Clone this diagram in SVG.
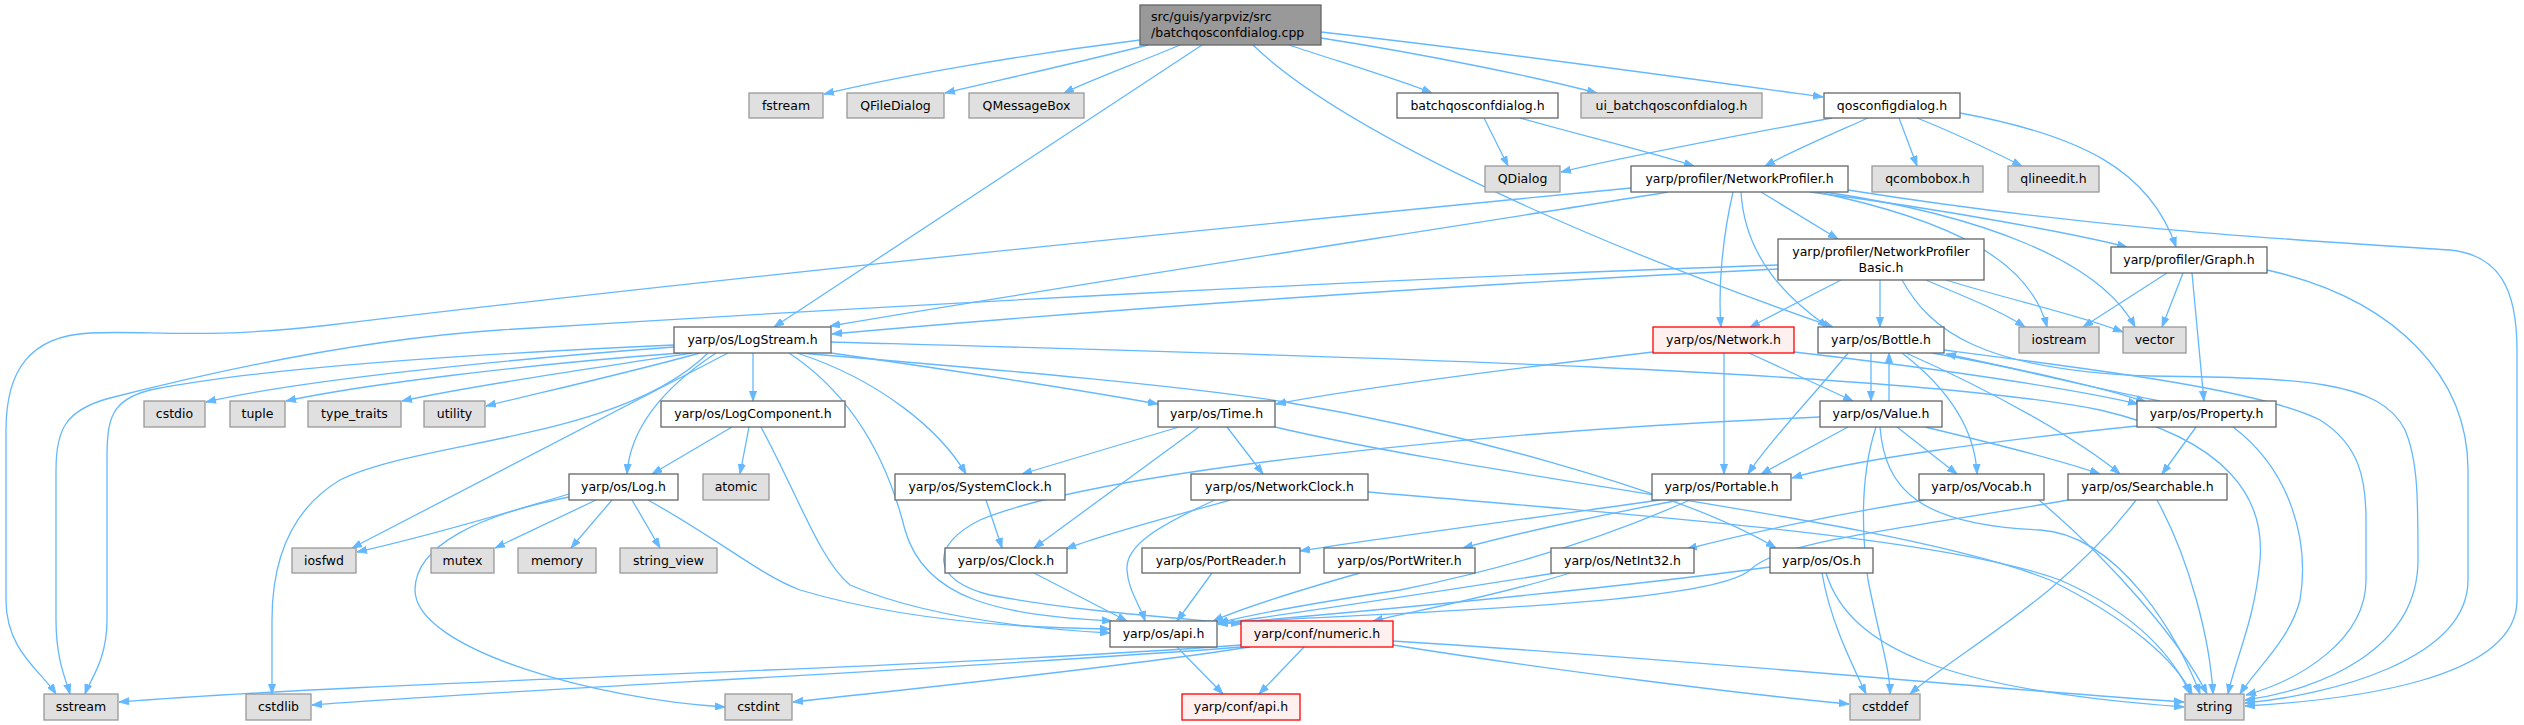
<svg xmlns="http://www.w3.org/2000/svg" width="2524" height="725" viewBox="0 0 2524 725">
<style>
text{font-family:"DejaVu Sans","Liberation Sans",sans-serif;font-size:12.5px;fill:#000;text-anchor:middle}
.w rect{fill:#fff;stroke:#666;stroke-width:1.3}
.g rect{fill:#e0e0e0;stroke:#999;stroke-width:1.3}
.r rect{fill:#fff0f0;stroke:#f00;stroke-width:1.3}
.m rect{fill:#999;stroke:#666;stroke-width:1.3}
#edges path{fill:none;stroke:#63b8ff;stroke-width:1.3;marker-end:url(#a)}
</style>
<defs>
<marker id="a" markerWidth="11" markerHeight="8" refX="10" refY="4" orient="auto" markerUnits="userSpaceOnUse"><path d="M0,0.4 L10,4 L0,7.6z" fill="#63b8ff" stroke="#63b8ff" stroke-width="0.8"/></marker>
</defs>
<rect width="2524" height="725" fill="#fff"/>
<g id="edges">
<path d="M1140,40 C1020,55 900,76 824,94"/>
<path d="M1148,45 C1080,62 1000,80 945,93"/>
<path d="M1180,45 C1140,62 1090,80 1064,93"/>
<path d="M1202,45 L774,327"/>
<path d="M1253,45 C1330,120 1540,225 1833,327"/>
<path d="M1289,45 C1340,62 1400,80 1432,93"/>
<path d="M1321,38 C1430,55 1540,78 1597,93"/>
<path d="M1321,32 C1500,52 1700,80 1823,97"/>
<path d="M1484,118 L1508,166"/>
<path d="M1520,118 C1580,135 1650,152 1694,166"/>
<path d="M1832,118 C1740,135 1620,158 1561,172"/>
<path d="M1868,118 C1830,135 1790,152 1765,166"/>
<path d="M1899,118 L1917,166"/>
<path d="M1917,118 C1960,135 2000,155 2022,166"/>
<path d="M1960,113 C2080,135 2150,170 2176,247"/>
<path d="M1631,188 C1250,225 700,280 330,325 C200,340 150,330 90,333 C30,336 6,370 6,430 L6,600 C6,650 40,670 56,694"/>
<path d="M1668,192 C1500,220 1100,280 830,326"/>
<path d="M1733,192 C1722,240 1718,290 1721,327"/>
<path d="M1741,192 C1745,260 1790,300 1828,327"/>
<path d="M1761,192 L1838,239"/>
<path d="M1810,192 C1950,210 2080,235 2127,247"/>
<path d="M1817,192 C1950,220 2030,260 2047,327"/>
<path d="M1825,192 C1980,215 2100,260 2135,327"/>
<path d="M1848,190 C2100,230 2300,240 2450,250 C2500,255 2517,290 2517,350 L2517,600 C2517,680 2350,700 2245,706"/>
<path d="M1778,265 C1400,278 900,305 500,330 C350,340 200,375 110,398 C65,410 56,430 56,470 L56,620 C56,660 66,680 70,694"/>
<path d="M1778,269 C1450,285 1100,310 832,334"/>
<path d="M1841,280 L1750,327"/>
<path d="M1880,280 L1880,327"/>
<path d="M1926,280 C1960,295 2000,310 2025,327"/>
<path d="M1946,280 C2010,300 2080,315 2123,332"/>
<path d="M1902,280 C1930,330 1980,370 2150,376 C2300,378 2380,380 2405,430 C2418,460 2418,500 2418,560 C2418,650 2320,690 2245,700"/>
<path d="M2167,273 L2083,327"/>
<path d="M2183,273 L2162,327"/>
<path d="M2192,273 C2196,320 2200,360 2204,401"/>
<path d="M2267,270 C2400,300 2468,380 2468,470 L2468,580 C2468,660 2330,695 2245,703"/>
<path d="M674,345 C450,355 250,370 150,390 C110,400 107,420 107,460 L107,620 C107,660 90,680 85,694"/>
<path d="M674,347 C500,360 300,380 206,402"/>
<path d="M680,353 C520,365 360,385 286,401"/>
<path d="M692,353 C580,370 460,388 402,401"/>
<path d="M700,353 C620,375 530,395 486,406"/>
<path d="M728,353 L352,548"/>
<path d="M708,353 C620,440 420,440 340,480 C290,510 272,560 272,620 L272,694"/>
<path d="M716,353 C660,390 630,430 627,474"/>
<path d="M753,353 L753,401"/>
<path d="M789,353 C860,400 890,470 905,530 C925,600 1000,615 1112,621"/>
<path d="M797,353 C880,380 940,430 966,474"/>
<path d="M831,353 C950,370 1080,390 1158,404"/>
<path d="M800,353 C1000,370 1180,385 1285,402 C1450,430 1680,490 1776,548"/>
<path d="M831,342 C1300,355 1900,370 2100,410 C2230,440 2265,500 2260,560 C2255,620 2235,660 2228,694"/>
<path d="M732,427 L652,474"/>
<path d="M749,427 L740,474"/>
<path d="M761,427 C800,500 820,560 850,585 C920,615 1020,628 1110,633"/>
<path d="M569,494 C500,515 410,540 357,552"/>
<path d="M596,500 L495,548"/>
<path d="M612,500 L571,548"/>
<path d="M632,500 L660,548"/>
<path d="M648,500 C720,540 760,575 800,590 C900,620 1020,628 1110,629"/>
<path d="M569,497 C480,515 415,545 415,590 C415,650 600,700 725,707"/>
<path d="M986,500 L1002,548"/>
<path d="M1179,427 L1022,474"/>
<path d="M1199,427 L1034,548"/>
<path d="M1227,427 L1263,474"/>
<path d="M1275,427 C1500,480 1900,520 2050,580 C2130,620 2175,660 2192,694"/>
<path d="M1230,500 C1160,520 1100,535 1066,549"/>
<path d="M1215,500 C1160,525 1125,545 1127,570 C1128,590 1140,605 1145,621"/>
<path d="M1368,492 C1700,520 1950,540 2060,580 C2140,615 2175,660 2190,694"/>
<path d="M1034,573 L1127,621"/>
<path d="M1653,352 C1500,370 1350,390 1276,404"/>
<path d="M1749,353 L1853,401"/>
<path d="M1724,353 L1724,474"/>
<path d="M1794,352 C1950,370 2080,390 2138,404"/>
<path d="M1848,353 C1810,400 1770,440 1748,474"/>
<path d="M1871,353 L1871,401"/>
<path d="M1889,401 L1889,353"/>
<path d="M1902,353 C1950,390 1975,430 1977,474"/>
<path d="M1906,353 C1990,390 2080,440 2120,474"/>
<path d="M1932,353 C2030,370 2110,390 2146,402"/>
<path d="M2160,401 C2080,385 2000,365 1946,354"/>
<path d="M1944,350 C2100,370 2260,390 2320,420 C2360,445 2366,480 2366,520 L2366,580 C2366,640 2300,680 2246,695"/>
<path d="M1848,427 L1761,474"/>
<path d="M1897,427 L1957,474"/>
<path d="M1925,427 C2000,445 2060,460 2100,474"/>
<path d="M1876,427 C1862,470 1860,520 1868,580 C1880,640 1890,670 1890,694"/>
<path d="M1880,427 C1885,490 1920,525 2040,530 C2120,535 2180,640 2200,694"/>
<path d="M1820,417 C1500,430 1100,470 980,520 C930,545 930,580 990,595 C1080,612 1180,618 1241,624"/>
<path d="M1660,500 C1520,520 1380,538 1300,551"/>
<path d="M1680,500 C1600,515 1510,535 1463,548"/>
<path d="M1690,500 C1600,540 1500,570 1400,590 C1300,605 1250,615 1218,623"/>
<path d="M1212,573 L1177,621"/>
<path d="M1360,573 C1300,590 1250,605 1213,621"/>
<path d="M1925,500 C1830,515 1740,535 1687,549"/>
<path d="M2039,500 C2110,560 2180,640 2207,694"/>
<path d="M2068,500 C1900,530 1780,540 1750,570 C1710,605 1400,612 1218,623"/>
<path d="M2136,500 C2060,600 1960,650 1910,694"/>
<path d="M2157,500 C2190,560 2210,640 2213,694"/>
<path d="M2137,426 C2000,440 1850,460 1792,478"/>
<path d="M2196,427 L2162,474"/>
<path d="M2233,427 C2290,470 2310,540 2300,600 C2290,640 2255,670 2240,694"/>
<path d="M1555,573 C1420,595 1300,612 1218,624"/>
<path d="M1570,573 C1500,595 1420,610 1373,621"/>
<path d="M1770,567 C1600,590 1380,610 1218,624"/>
<path d="M1822,573 C1830,620 1850,660 1866,694"/>
<path d="M1826,573 C1850,650 1950,690 2184,707"/>
<path d="M1177,647 L1223,694"/>
<path d="M1304,647 L1259,694"/>
<path d="M1241,645 C900,670 400,680 119,702"/>
<path d="M1241,647 C950,670 500,690 312,705"/>
<path d="M1250,647 C1100,670 900,690 793,702"/>
<path d="M1393,645 C1550,670 1750,695 1849,704"/>
<path d="M1393,641 C1700,660 2000,690 2184,702"/>
</g>
<g id="n_main" class="m"><rect x="1140" y="5" width="181" height="40"/><text x="1151" y="21" style="text-anchor:start">src/guis/yarpviz/src</text><text x="1151" y="37" style="text-anchor:start">/batchqosconfdialog.cpp</text></g>
<g id="n_fstream" class="g"><rect x="749" y="93" width="74" height="25"/><text x="786" y="110">fstream</text></g>
<g id="n_qfiledialog" class="g"><rect x="847" y="93" width="97" height="25"/><text x="895.5" y="110">QFileDialog</text></g>
<g id="n_qmessagebox" class="g"><rect x="969" y="93" width="115" height="25"/><text x="1026.5" y="110">QMessageBox</text></g>
<g id="n_batchqos" class="w"><rect x="1397" y="93" width="161" height="25"/><text x="1477.5" y="110">batchqosconfdialog.h</text></g>
<g id="n_uibatch" class="g"><rect x="1581" y="93" width="181" height="25"/><text x="1671.5" y="110">ui_batchqosconfdialog.h</text></g>
<g id="n_qosconfig" class="w"><rect x="1824" y="93" width="136" height="25"/><text x="1892" y="110">qosconfigdialog.h</text></g>
<g id="n_qdialog" class="g"><rect x="1485" y="166" width="75" height="26"/><text x="1522.5" y="183">QDialog</text></g>
<g id="n_netprof" class="w"><rect x="1631" y="166" width="217" height="26"/><text x="1739.5" y="183">yarp/profiler/NetworkProfiler.h</text></g>
<g id="n_qcombobox" class="g"><rect x="1872" y="166" width="111" height="26"/><text x="1927.5" y="183">qcombobox.h</text></g>
<g id="n_qlineedit" class="g"><rect x="2008" y="166" width="91" height="26"/><text x="2053.5" y="183">qlineedit.h</text></g>
<g id="n_netprofbasic" class="w"><rect x="1778" y="239" width="206" height="41"/><text x="1881" y="256">yarp/profiler/NetworkProfiler</text><text x="1881" y="272">Basic.h</text></g>
<g id="n_graph" class="w"><rect x="2111" y="247" width="156" height="26"/><text x="2189" y="264">yarp/profiler/Graph.h</text></g>
<g id="n_logstream" class="w"><rect x="674" y="327" width="157" height="26"/><text x="752.5" y="344">yarp/os/LogStream.h</text></g>
<g id="n_network" class="r"><rect x="1653" y="327" width="141" height="26"/><text x="1723.5" y="344">yarp/os/Network.h</text></g>
<g id="n_bottle" class="w"><rect x="1818" y="327" width="126" height="26"/><text x="1881" y="344">yarp/os/Bottle.h</text></g>
<g id="n_iostream" class="g"><rect x="2019" y="327" width="80" height="26"/><text x="2059" y="344">iostream</text></g>
<g id="n_vector" class="g"><rect x="2123" y="327" width="63" height="26"/><text x="2154.5" y="344">vector</text></g>
<g id="n_cstdio" class="g"><rect x="144" y="401" width="61" height="26"/><text x="174.5" y="418">cstdio</text></g>
<g id="n_tuple" class="g"><rect x="230" y="401" width="55" height="26"/><text x="257.5" y="418">tuple</text></g>
<g id="n_typetraits" class="g"><rect x="308" y="401" width="93" height="26"/><text x="354.5" y="418">type_traits</text></g>
<g id="n_utility" class="g"><rect x="424" y="401" width="61" height="26"/><text x="454.5" y="418">utility</text></g>
<g id="n_logcomponent" class="w"><rect x="661" y="401" width="184" height="26"/><text x="753" y="418">yarp/os/LogComponent.h</text></g>
<g id="n_time" class="w"><rect x="1158" y="401" width="117" height="26"/><text x="1216.5" y="418">yarp/os/Time.h</text></g>
<g id="n_value" class="w"><rect x="1820" y="401" width="122" height="26"/><text x="1881" y="418">yarp/os/Value.h</text></g>
<g id="n_property" class="w"><rect x="2137" y="401" width="139" height="26"/><text x="2206.5" y="418">yarp/os/Property.h</text></g>
<g id="n_log" class="w"><rect x="569" y="474" width="109" height="26"/><text x="623.5" y="491">yarp/os/Log.h</text></g>
<g id="n_atomic" class="g"><rect x="703" y="474" width="66" height="26"/><text x="736" y="491">atomic</text></g>
<g id="n_systemclock" class="w"><rect x="895" y="474" width="170" height="26"/><text x="980" y="491">yarp/os/SystemClock.h</text></g>
<g id="n_networkclock" class="w"><rect x="1191" y="474" width="177" height="26"/><text x="1279.5" y="491">yarp/os/NetworkClock.h</text></g>
<g id="n_portable" class="w"><rect x="1652" y="474" width="139" height="26"/><text x="1721.5" y="491">yarp/os/Portable.h</text></g>
<g id="n_vocab" class="w"><rect x="1919" y="474" width="125" height="26"/><text x="1981.5" y="491">yarp/os/Vocab.h</text></g>
<g id="n_searchable" class="w"><rect x="2068" y="474" width="159" height="26"/><text x="2147.5" y="491">yarp/os/Searchable.h</text></g>
<g id="n_iosfwd" class="g"><rect x="292" y="548" width="64" height="25"/><text x="324" y="565">iosfwd</text></g>
<g id="n_mutex" class="g"><rect x="431" y="548" width="63" height="25"/><text x="462.5" y="565">mutex</text></g>
<g id="n_memory" class="g"><rect x="518" y="548" width="78" height="25"/><text x="557" y="565">memory</text></g>
<g id="n_stringview" class="g"><rect x="620" y="548" width="97" height="25"/><text x="668.5" y="565">string_view</text></g>
<g id="n_clock" class="w"><rect x="945" y="548" width="122" height="25"/><text x="1006" y="565">yarp/os/Clock.h</text></g>
<g id="n_portreader" class="w"><rect x="1142" y="548" width="158" height="25"/><text x="1221" y="565">yarp/os/PortReader.h</text></g>
<g id="n_portwriter" class="w"><rect x="1324" y="548" width="151" height="25"/><text x="1399.5" y="565">yarp/os/PortWriter.h</text></g>
<g id="n_netint32" class="w"><rect x="1551" y="548" width="143" height="25"/><text x="1622.5" y="565">yarp/os/NetInt32.h</text></g>
<g id="n_os" class="w"><rect x="1770" y="548" width="103" height="25"/><text x="1821.5" y="565">yarp/os/Os.h</text></g>
<g id="n_osapi" class="w"><rect x="1110" y="621" width="107" height="26"/><text x="1163.5" y="638">yarp/os/api.h</text></g>
<g id="n_numeric" class="r"><rect x="1241" y="621" width="152" height="26"/><text x="1317" y="638">yarp/conf/numeric.h</text></g>
<g id="n_sstream" class="g"><rect x="44" y="694" width="74" height="26"/><text x="81" y="711">sstream</text></g>
<g id="n_cstdlib" class="g"><rect x="246" y="694" width="65" height="26"/><text x="278.5" y="711">cstdlib</text></g>
<g id="n_cstdint" class="g"><rect x="725" y="694" width="67" height="26"/><text x="758.5" y="711">cstdint</text></g>
<g id="n_confapi" class="r"><rect x="1182" y="694" width="118" height="26"/><text x="1241" y="711">yarp/conf/api.h</text></g>
<g id="n_cstddef" class="g"><rect x="1850" y="694" width="70" height="26"/><text x="1885" y="711">cstddef</text></g>
<g id="n_string" class="g"><rect x="2185" y="694" width="59" height="26"/><text x="2214.5" y="711">string</text></g>
</svg>
